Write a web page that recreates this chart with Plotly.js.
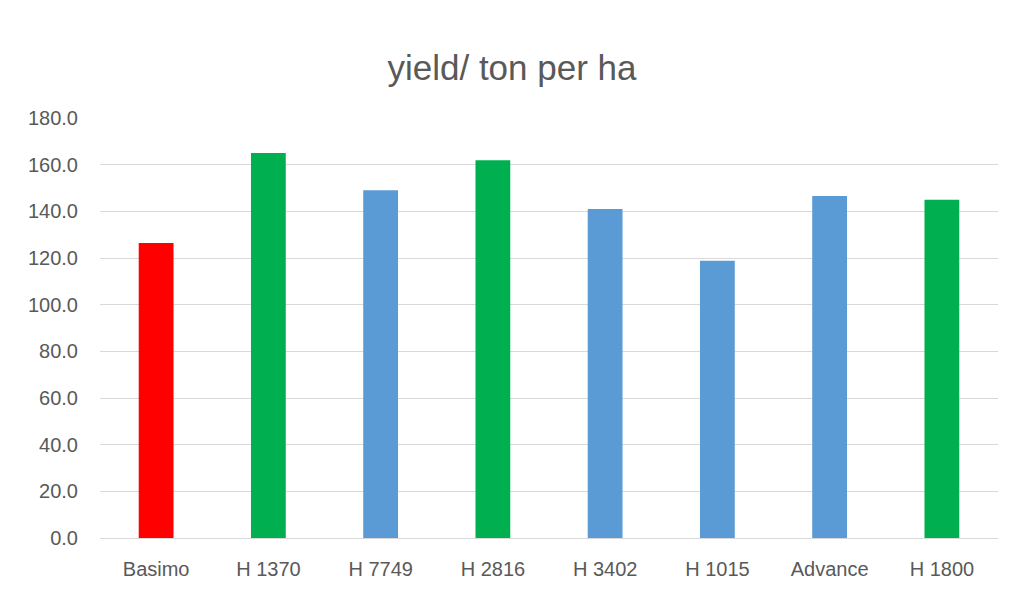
<!DOCTYPE html>
<html>
<head>
<meta charset="utf-8">
<script src="https://cdn.plot.ly/plotly-3.0.1.min.js"></script>
<style>html,body{margin:0;padding:0;background:#fff;}#chart{width:1024px;height:606px;}</style>
</head>
<body>
<div id="chart"></div>
<script>
var categories = ["Basimo", "H 1370", "H 7749", "H 2816", "H 3402", "H 1015", "Advance", "H 1800"];
var yields = [126.4, 165.0, 149.0, 161.9, 141.0, 118.8, 146.6, 145.0];
var barColors = ["#FF0000", "#00B050", "#5B9BD5", "#00B050", "#5B9BD5", "#5B9BD5", "#5B9BD5", "#00B050"];
var yTicks = [0, 20, 40, 60, 80, 100, 120, 140, 160, 180];

var font = "Liberation Sans, Arial, sans-serif";
Plotly.newPlot("chart", [{
  type: "bar",
  x: categories,
  y: yields,
  marker: {color: barColors},
  hoverinfo: "x+y"
}], {
  width: 1024, height: 606,
  margin: {l: 100, r: 26, t: 118, b: 68},
  paper_bgcolor: "#fff", plot_bgcolor: "#fff",
  bargap: 0.69,
  title: {text: "yield/ ton per ha", x: 0.5, xanchor: "center", y: 0.888, yanchor: "middle",
          font: {family: font, size: 35, color: "#595959"}},
  xaxis: {type: "category", showgrid: false, zeroline: false, showline: false, ticks: "",
          ticklabelstandoff: 17, tickfont: {family: font, size: 20, color: "#595959"}},
  yaxis: {range: [0, 180], tickvals: yTicks, ticktext: yTicks.map(function(v){return v.toFixed(1);}),
          showgrid: true, gridcolor: "#D9D9D9", gridwidth: 1, zeroline: true, zerolinecolor: "#D9D9D9",
          zerolinewidth: 1, showline: false, ticks: "", ticklabelstandoff: 21,
          tickfont: {family: font, size: 20, color: "#595959"}},
  showlegend: false
}, {displayModeBar: false});
</script>
</body>
</html>
